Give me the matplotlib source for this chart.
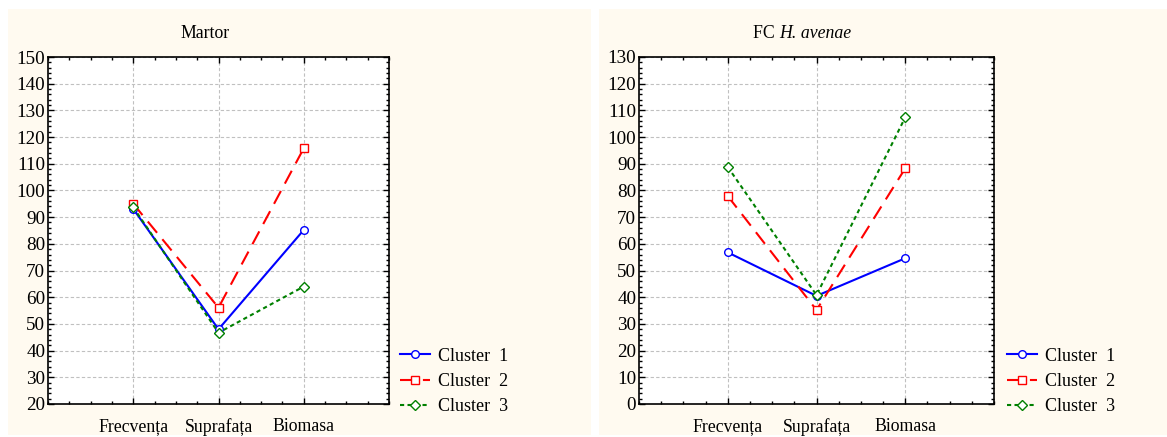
import matplotlib
matplotlib.use("Agg")
import matplotlib.pyplot as plt
from matplotlib.patches import Rectangle
from matplotlib.ticker import MultipleLocator

plt.rcParams['font.family'] = ['Liberation Serif', 'DejaVu Serif']

categories = ["Frecvența", "Suprafața", "Biomasa"]
cluster_names = ["Cluster  1", "Cluster  2", "Cluster  3"]

# Martor
martor_c1 = [93.1, 48.0, 85.2]
martor_c2 = [95.0, 56.1, 115.8]
martor_c3 = [93.7, 46.7, 64.0]

# FC H. avenae
avenae_c1 = [56.8, 40.5, 54.6]
avenae_c2 = [77.9, 35.2, 88.3]
avenae_c3 = [88.8, 40.8, 107.4]

styles = [
    dict(color="#0000ff", linestyle="-", marker="o"),
    dict(color="#ff0000", linestyle=(0, (7, 4)), marker="s"),
    dict(color="#008000", linestyle=(0, (2, 1.6)), marker="D"),
]
marker_sizes = [5.5, 5.5, 5]

W, H = 1167, 437
fig = plt.figure(figsize=(W / 100, H / 100), dpi=100)
fig.patch.set_facecolor("white")

cream = "#fffaf0"
fig.add_artist(Rectangle((8 / W, 1 - 435 / H), (591 - 8) / W, (435 - 9) / H,
                         transform=fig.transFigure, facecolor=cream,
                         edgecolor="none", zorder=-10))
fig.add_artist(Rectangle((599 / W, 1 - 435 / H), (W - 599) / W, (435 - 9) / H,
                         transform=fig.transFigure, facecolor=cream,
                         edgecolor="none", zorder=-10))


def draw_panel(left_px, right_px, series, ylim, title_parts, title_x, legend_x):
    ax = fig.add_axes([left_px / W, 1 - 404 / H, (right_px - left_px) / W, 347 / H])
    ax.set_facecolor("white")
    x = [1, 2, 3]
    handles = []
    for vals, st, ms, name in zip(series, styles, marker_sizes, cluster_names):
        h, = ax.plot(x, vals, color=st["color"], linestyle=st["linestyle"],
                     marker=st["marker"], markersize=ms, markerfacecolor="white",
                     markeredgecolor=st["color"], markeredgewidth=1.0,
                     linewidth=1.5, label=name, zorder=3)
        handles.append(h)
    ax.set_xlim(0, 4)
    ax.set_ylim(*ylim)
    ax.set_xticks(x)
    ax.set_xticklabels(categories, fontsize=12.8)
    ax.set_yticks(range(ylim[0], ylim[1] + 1, 10))
    ax.tick_params(axis="y", labelsize=13.8)
    ax.xaxis.set_minor_locator(MultipleLocator(0.25))
    ax.yaxis.set_minor_locator(MultipleLocator(2))
    ax.tick_params(which="both", direction="in", top=True, right=True,
                   width=1, color="black")
    ax.tick_params(which="major", length=4, pad=2)
    ax.tick_params(which="minor", length=2.5)
    ax.tick_params(axis="x", which="major", pad=10)
    ax.grid(True, which="major", color="#c0c0c0", linestyle=(0, (3, 2)),
            linewidth=0.8)
    ax.set_axisbelow(True)
    for sp in ax.spines.values():
        sp.set_linewidth(1.2)

    # title
    if len(title_parts) == 1:
        fig.text(title_x / W, 1 - 33 / H, title_parts[0], ha="center",
                 va="center", fontsize=12.8)
    else:
        fig.text(title_x / W, 1 - 33 / H, title_parts[0] + " ", ha="right",
                 va="center", fontsize=12.8)
        fig.text(title_x / W, 1 - 33 / H, title_parts[1], ha="left",
                 va="center", fontsize=12.8, style="italic")

    fig.legend(handles=handles, loc="lower left",
               bbox_to_anchor=(legend_x / W, 1 - 415 / H),
               frameon=False, fontsize=13, handlelength=1.66,
               handletextpad=0.44, labelspacing=0.45,
               borderaxespad=0, borderpad=0)
    return ax


draw_panel(48, 389, [martor_c1, martor_c2, martor_c3], (20, 150),
           ["Martor"], 205, 400)
draw_panel(639, 994, [avenae_c1, avenae_c2, avenae_c3], (0, 130),
           ["FC", "H. avenae"], 779, 1007)

fig.savefig("out.png", dpi=100, facecolor=fig.get_facecolor())
